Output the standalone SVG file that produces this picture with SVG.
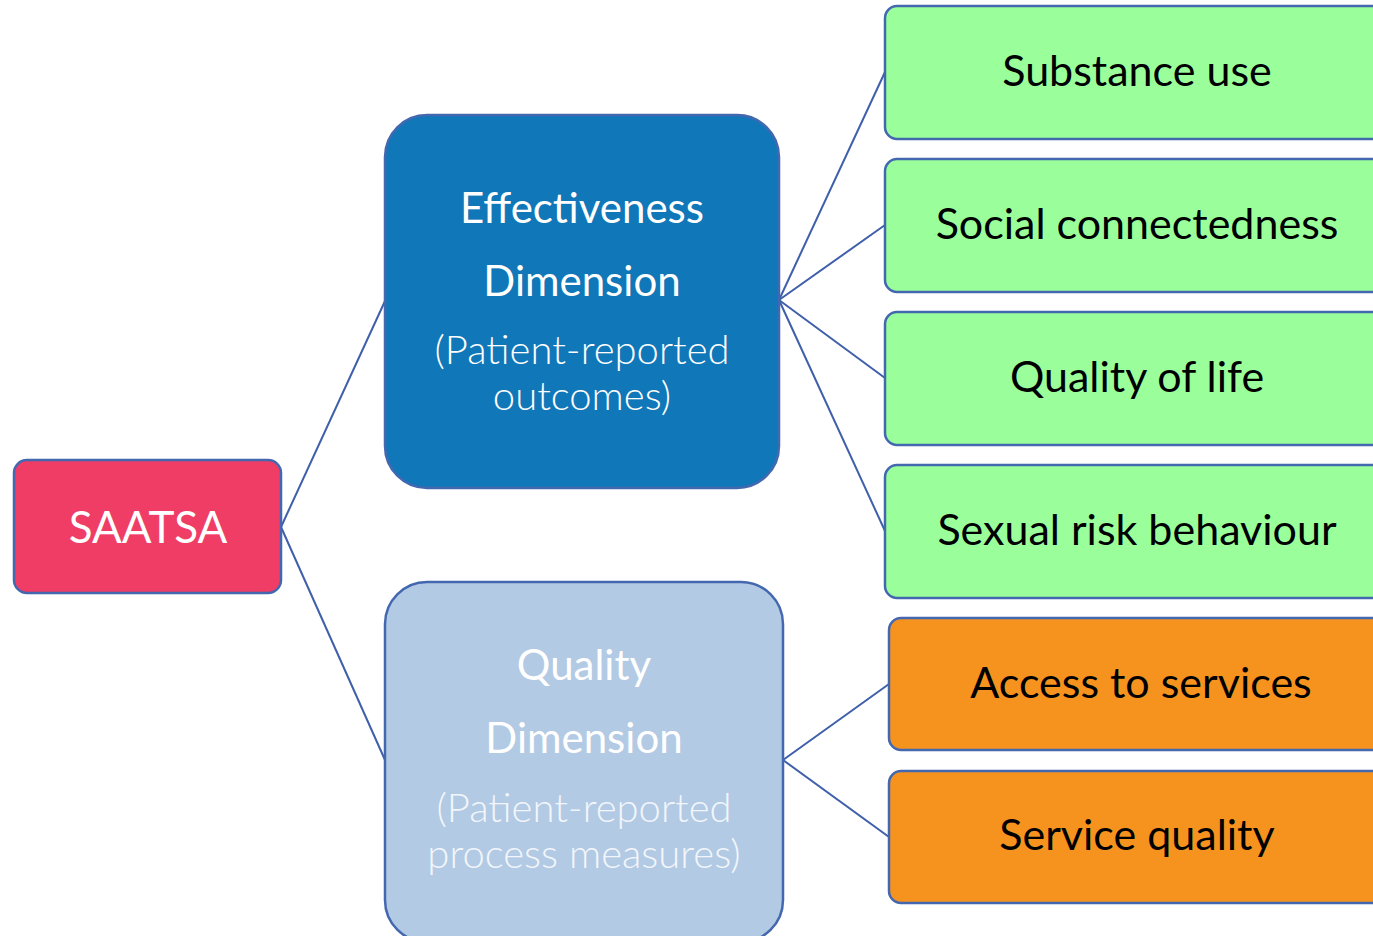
<svg xmlns="http://www.w3.org/2000/svg" width="1373" height="936" viewBox="0 0 1373 936">
<style>
.box{stroke:#4468B0;stroke-width:2.5}
.conn line{stroke:#3F5FAA;stroke-width:2;fill:none}
text{font-family:Lato,"Open Sans","Liberation Sans",sans-serif;text-anchor:middle}
.dark{fill:#000;font-size:43px;font-weight:400}
.head{fill:#fff;font-size:42px;font-weight:400}
.sub{fill:#fff;font-size:40px;font-weight:300}
</style>
<rect width="1373" height="936" fill="#fff"/>
<g id="connectors" class="conn">
<line x1="281" y1="527" x2="385" y2="301"/>
<line x1="281" y1="527" x2="385" y2="760"/>
<line x1="779" y1="300" x2="885" y2="72"/>
<line x1="779" y1="300" x2="885" y2="225"/>
<line x1="779" y1="300" x2="885" y2="378"/>
<line x1="779" y1="300" x2="885" y2="531"/>
<line x1="783" y1="760" x2="889" y2="684"/>
<line x1="783" y1="760" x2="889" y2="837"/>
</g>
<g id="saatsa">
<rect class="box" x="14" y="460" width="267" height="133" rx="13" fill="#EF3D66"/>
<text x="148" y="543" style="fill:#fff;font-size:44px">SAATSA</text>
</g>
<g id="effectiveness">
<rect class="box" x="385" y="115" width="394" height="373" rx="42" fill="#1077B8"/>
<text class="head" x="582" y="223">Effectiveness</text>
<text class="head" x="582" y="296">Dimension</text>
<text class="sub" x="582" y="364">(Patient-reported</text>
<text class="sub" x="582" y="410">outcomes)</text>
</g>
<g id="quality">
<rect class="box" x="385" y="582" width="398" height="360" rx="42" fill="#B3CAE4"/>
<text class="head" x="584" y="680">Quality</text>
<text class="head" x="584" y="753">Dimension</text>
<text class="sub" x="584" y="822" style="fill:#F2F6FB">(Patient-reported</text>
<text class="sub" x="584" y="868" style="fill:#F2F6FB">process measures)</text>
</g>
<g id="substance">
<rect class="box" x="885" y="6" width="500" height="133" rx="12" fill="#9AFF9A"/>
<text class="dark" x="1137" y="86">Substance use</text>
</g>
<g id="social">
<rect class="box" x="885" y="159" width="500" height="133" rx="12" fill="#9AFF9A"/>
<text class="dark" x="1137" y="239">Social connectedness</text>
</g>
<g id="qol">
<rect class="box" x="885" y="312" width="500" height="133" rx="12" fill="#9AFF9A"/>
<text class="dark" x="1137" y="392">Quality of life</text>
</g>
<g id="sexual">
<rect class="box" x="885" y="465" width="500" height="133" rx="12" fill="#9AFF9A"/>
<text class="dark" x="1137" y="545">Sexual risk behaviour</text>
</g>
<g id="access">
<rect class="box" x="889" y="618" width="500" height="132" rx="12" fill="#F6931F"/>
<text class="dark" x="1141" y="698">Access to services</text>
</g>
<g id="service">
<rect class="box" x="889" y="771" width="500" height="132" rx="12" fill="#F6931F"/>
<text class="dark" x="1137" y="850">Service quality</text>
</g>
</svg>
